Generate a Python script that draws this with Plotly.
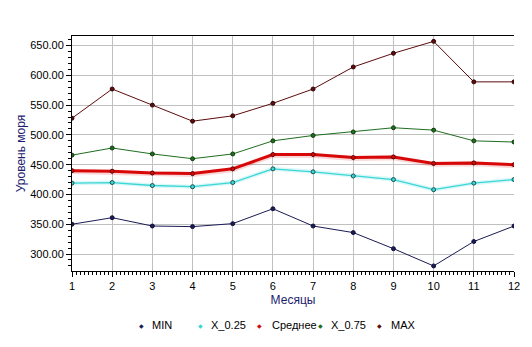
import plotly.graph_objects as go

months = list(range(1, 13))

v_min = [350, 361, 347, 346, 351, 376, 347, 336, 309, 280, 321, 347]
v_q25 = [419, 420, 415, 413, 420, 443, 438, 431, 425, 408, 419, 425]
v_mean = [440, 439, 436, 435, 443, 467, 467, 462, 463, 452, 453, 450]
v_q75 = [466, 478, 468, 460, 468, 490, 499, 505, 512, 508, 490, 488]
v_max = [528, 577, 550, 523, 532, 553, 577, 614, 637, 657, 589, 589]

series = [
    ("MIN", v_min, "#1b1b55", "#10103a", 1),
    ("X_0.25", v_q25, "#3cd6d6", "#1c4f4f", 1.3),
    ("Среднее", v_mean, "#d80808", "#5a0000", 3),
    ("X_0.75", v_q75, "#1f6e1f", "#0e3a0e", 1),
    ("MAX", v_max, "#5e0c0c", "#2e0404", 1),
]

FONT = "Liberation Sans, Arial, sans-serif"
NAVY = "#1c1c70"

fig = go.Figure()

# soft halo under the thicker lines
fig.add_trace(go.Scatter(x=months, y=v_q25, mode="lines", showlegend=False,
                         hoverinfo="skip",
                         line=dict(color="rgba(60,214,214,0.2)", width=4)))
fig.add_trace(go.Scatter(x=months, y=[v - 1.5 for v in v_mean], mode="lines",
                         showlegend=False, hoverinfo="skip",
                         line=dict(color="rgba(216,8,8,0.16)", width=5)))

for name, vals, col, edge, w in series:
    fig.add_trace(go.Scatter(
        x=months, y=vals, mode="lines+markers", name=name, showlegend=False,
        line=dict(color=col, width=w),
        marker=dict(size=4, color=col, line=dict(color=edge, width=1)),
    ))

# legend row drawn as text with coloured glyphs
leg_marker_px = [142, 201, 260, 322, 381]
leg_text_px = [150, 210, 271, 330, 390]
plot_l, plot_r, plot_t, plot_b = 72, 516, 36, 271
leg_y = (plot_b - 325) / (plot_b - plot_t)
annotations = []
for (name, vals, col, edge, w), mx, tx in zip(series, leg_marker_px, leg_text_px):
    annotations.append(dict(
        x=(mx - plot_l) / (plot_r - plot_l), y=leg_y, xref="paper", yref="paper",
        text="◆", showarrow=False, xanchor="center", yanchor="middle",
        font=dict(family="DejaVu Sans", size=6, color=col)))
    annotations.append(dict(
        x=(tx - plot_l) / (plot_r - plot_l), y=leg_y, xref="paper", yref="paper",
        text=name, showarrow=False, xanchor="left", yanchor="middle",
        font=dict(family=FONT, size=11, color="#000000")))

fig.update_layout(
    width=532, height=347,
    margin=dict(l=plot_l, r=532 - plot_r, t=plot_t, b=347 - plot_b),
    paper_bgcolor="white", plot_bgcolor="white",
    font=dict(family=FONT, size=11, color="#000000"),
    showlegend=False,
    annotations=annotations,
    xaxis=dict(
        range=[1, 12], tickmode="linear", tick0=1, dtick=1,
        showgrid=True, gridcolor="#c0c0c0", gridwidth=1,
        showline=True, linecolor="#000000", linewidth=1, mirror=True,
        ticks="outside", ticklen=5, tickcolor="#000000",
        minor=dict(dtick=0.1, ticks="outside", ticklen=3, tickcolor="#000000", showgrid=False),
        zeroline=False,
        title=dict(text="Месяцы", font=dict(family=FONT, size=12, color=NAVY), standoff=4),
        tickfont=dict(family=FONT, size=11, color="#000000"),
    ),
    yaxis=dict(
        range=[271.5, 666], tickmode="linear", tick0=300, dtick=50,
        tickformat=".2f",
        showgrid=True, gridcolor="#c0c0c0", gridwidth=1,
        showline=True, linecolor="#000000", linewidth=1,
        ticks="outside", ticklen=5, tickcolor="#000000",
        minor=dict(dtick=10, ticks="outside", ticklen=3, tickcolor="#000000", showgrid=False),
        zeroline=False,
        title=dict(text="Уровень моря", font=dict(family=FONT, size=12, color=NAVY), standoff=1),
        tickfont=dict(family=FONT, size=11, color="#000000"),
    ),
)

fig.write_html("out.html")
